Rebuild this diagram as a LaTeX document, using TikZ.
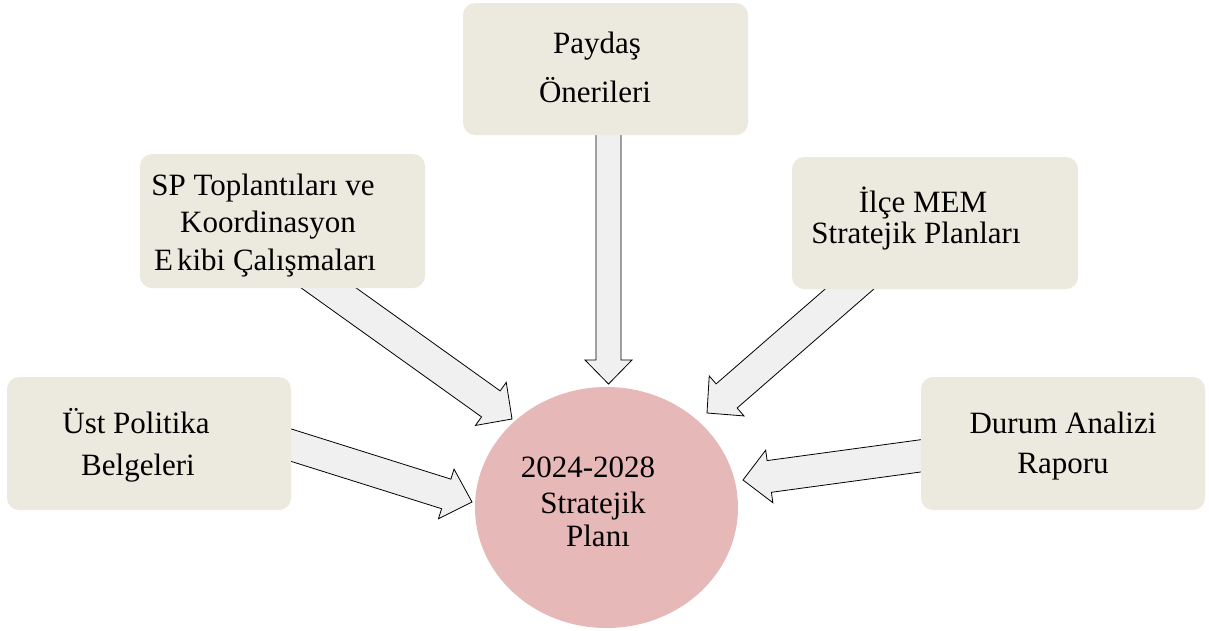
\documentclass[tikz,border=0pt]{standalone}
\usepackage{fontspec}
\setmainfont{Liberation Serif}
\usetikzlibrary{calc,shapes.geometric}
\definecolor{boxfill}{HTML}{ECE9DF}
\definecolor{circfill}{HTML}{E6B8B7}
\definecolor{arrfill}{HTML}{F0F0F0}
\tikzset{
  box/.style={draw=none,fill=boxfill,rounded corners=12pt,minimum width=#1,minimum height=133pt,inner sep=0pt},
  box/.default=285pt,
  circ/.style={ellipse,draw=none,fill=circfill,minimum width=263pt,minimum height=241pt,inner sep=0pt},
  barrow/.style={draw=black,fill=arrfill,line width=0.8pt,line join=miter},
  txt/.style={anchor=base,inner sep=0pt,font=\fontsize{31}{37}\selectfont}
}
\newcommand\blockarrow[6]{%
  \coordinate (#1-h) at ($(#3)!#6!(#2)$);
  \draw[barrow] ($(#2)!#4!90:(#3)$) -- ($(#1-h)!#4!90:(#3)$) -- ($(#1-h)!#5!90:(#3)$) -- (#3)
     -- ($(#1-h)!#5!-90:(#3)$) -- ($(#1-h)!#4!-90:(#3)$) -- ($(#2)!#4!-90:(#3)$) -- cycle;
}
\begin{document}
\begin{tikzpicture}[x=1pt,y=-1pt]
\useasboundingbox (0,0) rectangle (1209,630);
% tails and tips
\coordinate (payT) at (608.5,110);
\coordinate (payE) at (608.5,384);
\coordinate (spT) at (284.4,256.3);
\coordinate (spE) at (512,419);
\coordinate (ustT) at (262,436);
\coordinate (ustE) at (472,502);
\coordinate (ilceT) at (895.5,249);
\coordinate (ilceE) at (707,413);
\coordinate (durT) at (971,449);
\coordinate (durE) at (743,480);
% arrows
\blockarrow{a1}{payT}{payE}{12.5pt}{23.5pt}{24pt}
\blockarrow{a2}{spT}{spE}{16pt}{26.5pt}{26pt}
\blockarrow{a3}{ustT}{ustE}{15.5pt}{26pt}{27pt}
\blockarrow{a4}{ilceT}{ilceE}{16pt}{26.5pt}{26pt}
\blockarrow{a5}{durT}{durE}{16pt}{26.5pt}{26.5pt}
% boxes
\node[box,minimum height=132pt] (pay) at (605.5,69) {};
\node[box,minimum height=134pt] (sp) at (282.5,221) {};
\node[box=286pt,minimum height=132pt] (ilce) at (935,223) {};
\node[box=284pt] (ust) at (149,443.5) {};
\node[box=284pt] (dur) at (1063,443.5) {};
\node[circ] (plan) at (606.5,507.5) {};
% texts
\node[txt] (pay1) at (597,53) {Paydaş};
\node[txt] (pay2) at (595,102) {Önerileri};
\node[txt] (sp1) at (263,195) {SP Toplantıları ve};
\node[txt] (sp2) at (268,232) {Koordinasyon};
\node[txt] (sp3) at (265,270) {E\hspace{4pt}kibi Çalışmaları};
\node[txt] (ilce1) at (923,212) {İlçe MEM};
\node[txt] (ilce2) at (916,243) {Stratejik Planları};
\node[txt] (ust1) at (136,433) {Üst Politika};
\node[txt] (ust2) at (138,475) {Belgeleri};
\node[txt] (dur1) at (1063,433) {Durum Analizi};
\node[txt] (dur2) at (1063,473) {Raporu};
\node[txt] (plan1) at (588,477) {2024-2028};
\node[txt] (plan2) at (593,513) {Stratejik};
\node[txt] (plan3) at (598,546) {Planı};
\end{tikzpicture}
\end{document}
